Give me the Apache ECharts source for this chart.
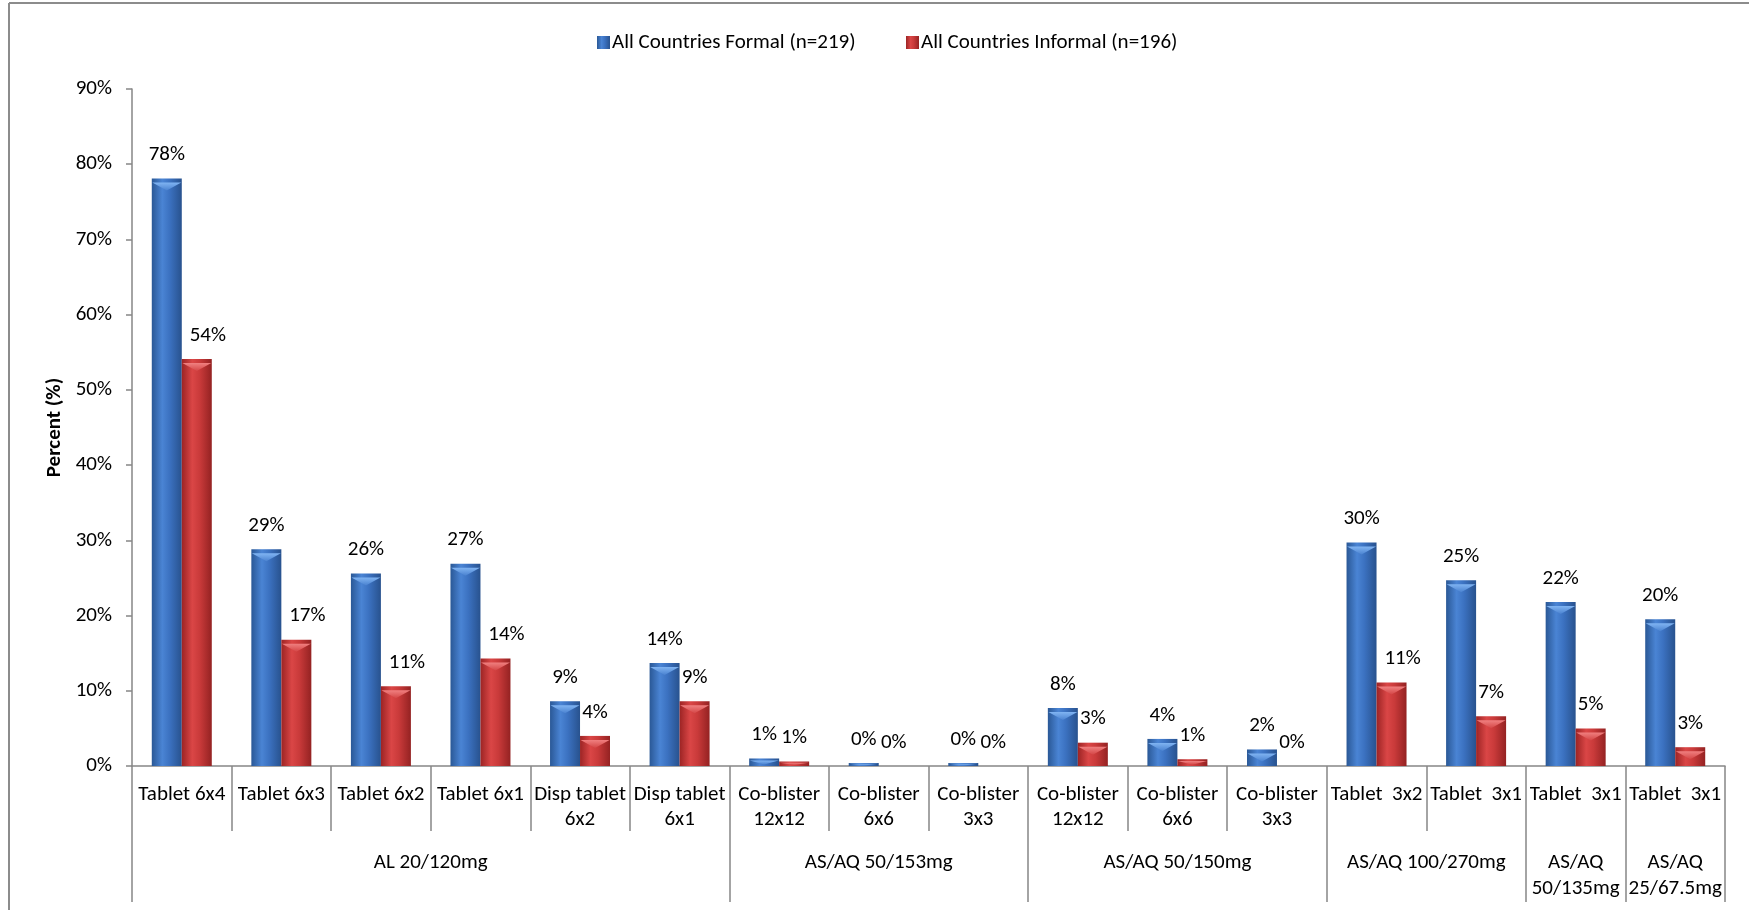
<!DOCTYPE html>
<html>
<head>
<meta charset="utf-8">
<script src="https://cdn.jsdelivr.net/npm/echarts@6/dist/echarts.min.js"></script>
<style>
  html, body { margin: 0; padding: 0; background: #fff; }
  #chart { width: 1749px; height: 910px; }
</style>
</head>
<body>
<div id="chart"></div>
<script>
// ---- data ----
const categories = [
  'Tablet 6x4', 'Tablet 6x3', 'Tablet 6x2', 'Tablet 6x1', 'Disp tablet\n6x2', 'Disp tablet\n6x1',
  'Co-blister\n12x12', 'Co-blister\n6x6', 'Co-blister\n3x3',
  'Co-blister\n12x12', 'Co-blister\n6x6', 'Co-blister\n3x3',
  'Tablet  3x2', 'Tablet  3x1', 'Tablet  3x1', 'Tablet  3x1'
];
const groupNames = ['AL 20/120mg', 'AS/AQ 50/153mg', 'AS/AQ 50/150mg', 'AS/AQ 100/270mg', 'AS/AQ\n50/135mg', 'AS/AQ\n25/67.5mg'];
const groupSizes = [6, 3, 3, 2, 1, 1];
const formalName = 'All Countries Formal (n=219)';
const informalName = 'All Countries Informal (n=196)';
const formal = [78.1, 28.8, 25.6, 26.9, 8.6, 13.7, 1.0, 0.4, 0.4, 7.7, 3.6, 2.2, 29.7, 24.7, 21.8, 19.5];
const informal = [54.1, 16.8, 10.6, 14.3, 4.0, 8.6, 0.6, 0, 0, 3.1, 0.9, 0, 11.1, 6.6, 5.0, 2.5];
const yTicks = [0, 10, 20, 30, 40, 50, 60, 70, 80, 90];

// ---- derived axis helpers ----
const groupBounds = [0];
groupSizes.forEach(s => groupBounds.push(groupBounds[groupBounds.length - 1] + s));
const groupCenters = groupSizes.map((s, i) => groupBounds[i] + s / 2);

const FONT = 'Carlito, Lato, "Open Sans", sans-serif';
const FS = 21;
const AXIS_COLOR = '#868686';

const blueGrad = new echarts.graphic.LinearGradient(0, 0, 1, 0, [
  { offset: 0, color: '#2a5896' },
  { offset: 0.35, color: '#4a84d4' },
  { offset: 0.6, color: '#3b71c0' },
  { offset: 1, color: '#28528e' }
]);
const redGrad = new echarts.graphic.LinearGradient(0, 0, 1, 0, [
  { offset: 0, color: '#9c2424' },
  { offset: 0.35, color: '#da4646' },
  { offset: 0.6, color: '#c93a3a' },
  { offset: 1, color: '#942222' }
]);
const blueCap = new echarts.graphic.LinearGradient(0, 0, 0, 1, [
  { offset: 0, color: '#80b4f2' }, { offset: 1, color: '#4a82d0' }
]);
const redCap = new echarts.graphic.LinearGradient(0, 0, 0, 1, [
  { offset: 0, color: '#f08080' }, { offset: 1, color: '#d44646' }
]);

const labelStyle = {
  show: true, position: 'top', distance: 12, color: '#000',
  fontFamily: FONT, fontSize: FS, lineHeight: 23,
  formatter: p => Math.round(p.value) + '%'
};

const informalData = informal.map((v, i) => {
  const item = { value: v };
  if (Math.round(v) >= 10 && formal[i] > v) item.label = { offset: [11, 0] };
  return item;
});

function capData(arr) {
  return arr.map(v => ({ value: v, symbolSize: [29, v < 0.2 ? 0 : Math.min(8, v * 4)] }));
}

const chart = echarts.init(document.getElementById('chart'));
chart.setOption({
  animation: false,
  backgroundColor: '#fff',
  graphic: [
    { type: 'line', shape: { x1: 9, y1: 3, x2: 1749, y2: 3 }, style: { stroke: '#8c8c8c', lineWidth: 2 } },
    { type: 'line', shape: { x1: 9, y1: 3, x2: 9, y2: 910 }, style: { stroke: '#8c8c8c', lineWidth: 2 } }
  ],
  legend: [
    {
      data: [formalName], left: 592, top: 27, itemWidth: 13, itemHeight: 13, icon: 'rect',
      textStyle: { fontFamily: FONT, fontSize: FS, color: '#000', padding: [0, 0, 0, -3] }
    },
    {
      data: [informalName], left: 901, top: 27, itemWidth: 13, itemHeight: 13, icon: 'rect',
      textStyle: { fontFamily: FONT, fontSize: FS, color: '#000', padding: [0, 0, 0, -3] }
    }
  ],
  grid: { left: 132, right: 24, top: 89, bottom: 144, containLabel: false },
  xAxis: [
    {
      type: 'category', data: categories, position: 'bottom',
      axisLine: { lineStyle: { color: AXIS_COLOR, width: 1.5 } },
      axisTick: { show: true, interval: 0, length: 65, alignWithLabel: false, lineStyle: { color: AXIS_COLOR, width: 1.5 } },
      axisLabel: { interval: 0, margin: 16, color: '#000', fontFamily: FONT, fontSize: FS, lineHeight: 25 },
      splitLine: { show: false }
    },
    {
      type: 'value', min: 0, max: groupBounds[groupBounds.length - 1], position: 'bottom',
      axisLine: { show: false },
      axisTick: { show: true, customValues: groupBounds, length: 136, lineStyle: { color: AXIS_COLOR, width: 1.5 } },
      axisLabel: {
        customValues: groupCenters, margin: 84, color: '#000', fontFamily: FONT, fontSize: FS, lineHeight: 26,
        formatter: v => { const i = groupCenters.indexOf(v); return i >= 0 ? groupNames[i] : ''; }
      },
      splitLine: { show: false }
    }
  ],
  yAxis: {
    type: 'value', min: yTicks[0], max: yTicks[yTicks.length - 1], interval: 10,
    name: 'Percent (%)', nameLocation: 'middle', nameRotate: 90, nameGap: 64,
    nameTextStyle: { fontFamily: FONT, fontSize: FS, fontWeight: 'bold', color: '#000' },
    axisLine: { show: true, lineStyle: { color: AXIS_COLOR, width: 1.5 } },
    axisTick: { show: true, length: 6, lineStyle: { color: AXIS_COLOR, width: 1.5 } },
    axisLabel: { margin: 20, color: '#000', fontFamily: FONT, fontSize: FS, formatter: '{value}%' },
    splitLine: { show: false }
  },
  series: [
    {
      name: formalName, type: 'bar', data: formal, barWidth: 30, barGap: '0%',
      itemStyle: { color: blueGrad }, label: labelStyle, z: 2
    },
    {
      name: informalName, type: 'bar', data: informalData, barWidth: 30, barGap: '0%',
      itemStyle: { color: redGrad }, label: labelStyle, z: 2
    },
    {
      name: 'capF', type: 'pictorialBar', data: capData(formal), barWidth: 30, barGap: '0%',
      symbol: 'path://M0,0 L30,0 L15,9 Z', symbolPosition: 'end', symbolOffset: [0, '50%'],
      symbolKeepAspect: false, itemStyle: { color: blueCap }, silent: true, z: 3
    },
    {
      name: 'capI', type: 'pictorialBar', data: capData(informal), barWidth: 30, barGap: '0%',
      symbol: 'path://M0,0 L30,0 L15,9 Z', symbolPosition: 'end', symbolOffset: [0, '50%'],
      symbolKeepAspect: false, itemStyle: { color: redCap }, silent: true, z: 3
    }
  ]
});
</script>
</body>
</html>
